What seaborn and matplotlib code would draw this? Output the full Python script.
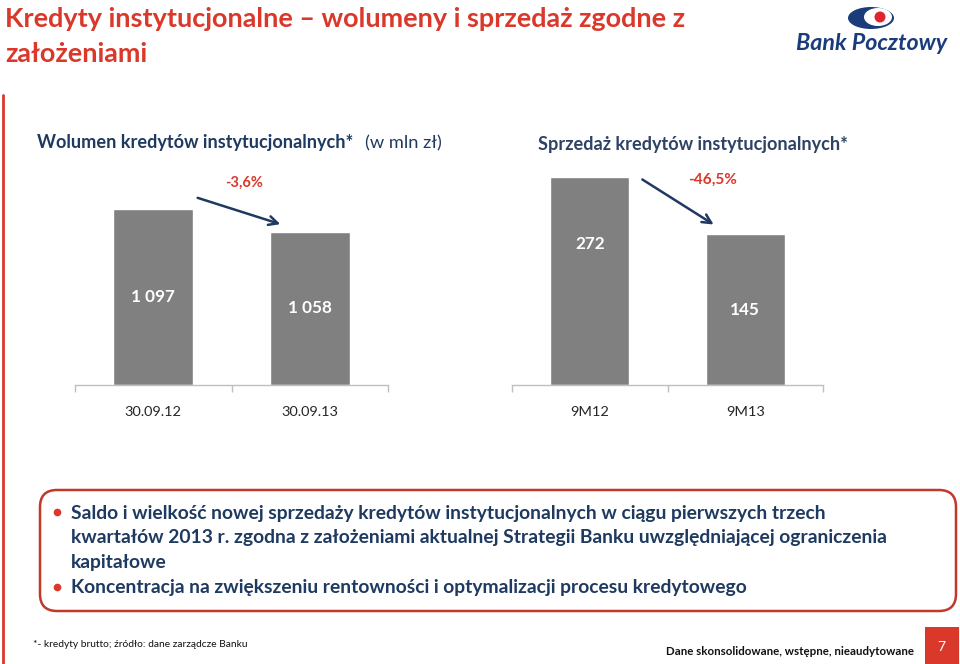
import matplotlib
matplotlib.use("Agg")
import matplotlib.pyplot as plt
import seaborn as sns
import pandas as pd
from matplotlib.lines import Line2D
from matplotlib.patches import FancyBboxPatch, FancyArrowPatch, Rectangle, Ellipse, Circle

# dane z wykresu
vol_labels = ["30.09.12", "30.09.13"]
vol_values = [1097, 1058]
vol_text = ["1 097", "1 058"]
vol_change = "-3,6%"

sales_labels = ["9M12", "9M13"]
sales_values = [272, 145]
sales_text = ["272", "145"]
sales_change = "-46,5%"

title_lines = ["Kredyty instytucjonalne \u2013 wolumeny i sprzedaż zgodne z", "założeniami"]
bullet_lines = [
    "Saldo i wielkość nowej sprzedaży kredytów instytucjonalnych w ciągu pierwszych trzech",
    "kwartałów 2013 r. zgodna z założeniami aktualnej Strategii Banku uwzględniającej ograniczenia",
    "kapitałowe",
    "Koncentracja na zwiększeniu rentowności i optymalizacji procesu kredytowego",
]
footnote = "*- kredyty brutto; źródło: dane zarządcze Banku"
footer = "Dane skonsolidowane, wstępne, nieaudytowane"
page_no = "7"

RED = "#D9382B"
NAVY = "#1F3A60"
GREY = "#808080"
FONT = ["Lato", "DejaVu Sans"]

sns.set_theme(style="white")
plt.rcParams["font.family"] = FONT

W, H = 960, 664
fig = plt.figure(figsize=(W / 100, H / 100), dpi=100)
fig.patch.set_facecolor("white")
R = fig.canvas.get_renderer()


def fx(x):
    return x / W


def fy(y):
    return 1 - y / H


def size_for(s, width, weight="normal", style="normal"):
    t = fig.text(0, 0, s, fontsize=20, fontweight=weight, fontstyle=style)
    w = t.get_window_extent(R).width
    t.remove()
    return 20 * width / w


def put(s, x, y, width, color, weight="normal", ha="left", style="normal", size=None):
    fs = size if size else size_for(s, width, weight, style)
    fig.text(fx(x), fy(y), s, fontsize=fs, fontweight=weight, color=color,
             ha=ha, va="baseline", fontstyle=style)
    return fs


def bars(rect, labels, values, texts, ylim, fracs, lab_size, val_size):
    ax = fig.add_axes(rect)
    df = pd.DataFrame({"okres": labels, "wartosc": values})
    sns.barplot(data=df, x="okres", y="wartosc", color=GREY, saturation=1,
                width=0.51, ax=ax)
    # oś wartości nie zaczyna się od zera - słupki sięgają do osi
    for p, v in zip(ax.patches, values):
        p.set_y(ylim[0])
        p.set_height(v - ylim[0])
    ax.set_xlim(-0.5, 1.5)
    ax.set_ylim(*ylim)
    for s in ["left", "top", "right"]:
        ax.spines[s].set_visible(False)
    ax.spines["bottom"].set_color("#BFBFBF")
    ax.spines["bottom"].set_linewidth(1.0)
    ax.set_yticks([])
    ax.set_xlabel("")
    ax.set_ylabel("")
    ax.set_facecolor("none")
    ax.tick_params(axis="x", which="major", length=0, pad=15,
                   labelsize=lab_size, labelcolor="#262626")
    ax.set_xticks([-0.5, 0.5, 1.5], minor=True)
    ax.tick_params(axis="x", which="minor", bottom=True, length=5,
                   color="#BFBFBF", width=1.0, direction="out")
    for i, (v, t, f) in enumerate(zip(values, texts, fracs)):
        ax.text(i, ylim[0] + (v - ylim[0]) * f, t, ha="center", va="center",
                color="white", fontweight="bold", fontsize=val_size)
    return ax


lab_size = size_for("30.09.12", 57)
val_size = size_for("1 097", 44, "bold")

# wolumen
bars([fx(75), fy(385), (388 - 75) / W, 215 / H], vol_labels, vol_values,
     vol_text, (798.7, 1163), [0.5, 0.5], lab_size, val_size)
# sprzedaż
bars([fx(512), fy(385), (823 - 512) / W, 215 / H], sales_labels, sales_values,
     sales_text, (-191.4, 287.7), [0.68, 0.5], lab_size, val_size)

# tytuł
ts = put(title_lines[0], 5, 27, 681, RED, "bold")
put(title_lines[1], 5, 62, 0, RED, "bold", size=ts)

# podtytuły wykresów
put("Wolumen kredytów instytucjonalnych*", 37, 148, 316, NAVY, "bold")
put("(w mln zł)", 365, 148, 77, NAVY)
put("Sprzedaż kredytów instytucjonalnych*", 538, 150, 310, "#2E4266", "bold")

# zmiany procentowe
put(vol_change, 225, 187, 38, RED, "bold")
put(sales_change, 688, 184, 49, RED, "bold")

inch = fig.dpi_scale_trans


def ip(x, y):
    return (x / 100, (H - y) / 100)


for a, b in [((195, 197), (283, 225)), ((640, 178), (716, 226))]:
    fig.add_artist(FancyArrowPatch(ip(*a), ip(*b), transform=inch,
                                   arrowstyle="->", mutation_scale=16,
                                   color="#1F3864", lw=1.8))

# czerwona linia z lewej
fig.add_artist(Line2D([0.03, 0.03], [0, (H - 95) / 100], transform=inch,
                      color=RED, lw=2.0))

# ramka z punktami
fig.add_artist(FancyBboxPatch(ip(40, 611), 9.16, 1.21, transform=inch,
                              boxstyle="round,pad=0,rounding_size=0.17",
                              fill=False, edgecolor="#C0392B", lw=1.8))
bs = size_for(bullet_lines[1], 815, "bold")
for line, yb in zip(bullet_lines, [519, 543, 568, 593]):
    put(line, 71, yb, 0, NAVY, "bold", size=bs)
for yb in [512, 587]:
    fig.add_artist(Line2D([0.57], [(H - yb) / 100], transform=inch, marker="o",
                          markersize=4.5, color=RED, lw=0))

# stopka
put(footnote, 33, 647, 217, "#111111")
put(footer, 666, 655, 246, "#111111", "bold")
fig.add_artist(Rectangle(ip(925, 664), 0.34, 0.37, transform=inch,
                         facecolor="#D9382B", edgecolor="none"))
fig.text(fx(941), fy(647), page_no, color="white", fontsize=10,
         ha="center", va="center")

# logo
put("Bank Pocztowy", 796, 50, 151, "#1B3C7B", "bold", style="italic")
fig.add_artist(Ellipse(ip(871, 18), 0.46, 0.22, transform=inch,
                       facecolor="#1B3C7B", edgecolor="none"))
fig.add_artist(Ellipse(ip(878, 17), 0.28, 0.18, transform=inch,
                       facecolor="white", edgecolor="none"))
fig.add_artist(Circle(ip(880, 17), 0.055, transform=inch,
                      facecolor="#E0242F", edgecolor="none"))

fig.savefig("out.png", dpi=100, facecolor="white")
